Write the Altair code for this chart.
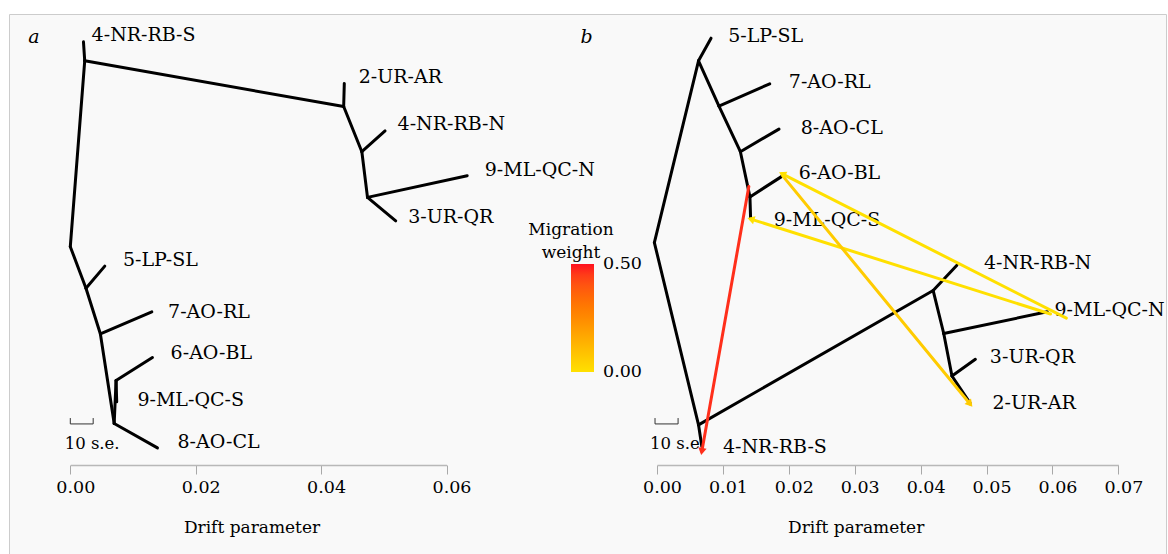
import math
import altair as alt
import pandas as pd

SERIF = "DejaVu Serif"
FS_TIP = 19      # tip labels
FS_AX = 17.5     # tick labels
FS_TITLE = 17    # axis / legend titles
FS_SE = 16.5     # "10 s.e."

# ---------------- Panel a : tree without migration ----------------
A_NODE = ["root", "n1", "n2", "n3", "n4", "n5", "n6", "n7", "n8",
          "4-NR-RB-S", "2-UR-AR", "4-NR-RB-N", "9-ML-QC-N", "3-UR-QR",
          "5-LP-SL", "7-AO-RL", "6-AO-BL", "9-ML-QC-S", "8-AO-CL"]
A_NODE_X = [0.0, 0.0023, 0.0436, 0.0465, 0.0474, 0.0025, 0.0048, 0.0070, 0.0073,
            0.0021, 0.0437, 0.0502, 0.0633, 0.0519,
            0.0055, 0.0130, 0.0131, 0.0074, 0.0139]
A_NODE_Y = [4.57, 0.46, 1.47, 2.47, 3.48, 5.49, 6.50, 8.48, 7.53,
            0.04, 0.96, 2.01, 3.00, 4.00,
            5.00, 6.01, 7.02, 8.00, 9.02]
A_EDGE_FROM = ["root", "n1", "n1", "n2", "n2", "n3", "n3", "n4", "n4",
               "root", "n5", "n5", "n6", "n6", "n7", "n8", "n8", "n7"]
A_EDGE_TO = ["n1", "4-NR-RB-S", "n2", "2-UR-AR", "n3", "4-NR-RB-N", "n4", "9-ML-QC-N", "3-UR-QR",
             "n5", "5-LP-SL", "n6", "7-AO-RL", "n7", "n8", "6-AO-BL", "9-ML-QC-S", "8-AO-CL"]
A_LABEL = ["4-NR-RB-S", "2-UR-AR", "4-NR-RB-N", "9-ML-QC-N", "3-UR-QR",
           "5-LP-SL", "7-AO-RL", "6-AO-BL", "9-ML-QC-S", "8-AO-CL"]
A_LABEL_X = [0.0034, 0.0460, 0.0522, 0.0661, 0.0539, 0.0084, 0.0156, 0.0160, 0.0107, 0.0171]
A_LABEL_Y = [-0.11, 0.81, 1.86, 2.87, 3.91, 4.87, 6.01, 6.92, 7.95, 8.90]
A_TICKS = [0.00, 0.02, 0.04, 0.06]

# ---------------- Panel b : tree with migration ----------------
B_NODE = ["root", "m1", "m2", "m3", "m4", "m5", "m6", "m7", "m8",
          "5-LP-SL", "7-AO-RL", "8-AO-CL", "6-AO-BL", "9-ML-QC-S",
          "4-NR-RB-S", "4-NR-RB-N", "9-ML-QC-N", "3-UR-QR", "2-UR-AR"]
B_NODE_X = [-0.0004, 0.0063, 0.0094, 0.01265, 0.0141, 0.0063, 0.0419, 0.0435, 0.04475,
            0.0082, 0.0171, 0.0185, 0.0190, 0.0142,
            0.0068, 0.0455, 0.0592, 0.0483, 0.0475]
B_NODE_Y = [4.48, 0.46, 1.46, 2.47, 3.47, 8.51, 5.54, 6.49, 7.43,
            -0.04, 0.97, 1.97, 3.01, 3.94,
            8.99, 4.98, 6.01, 7.06, 8.03]
B_EDGE_FROM = ["root", "m1", "m1", "m2", "m2", "m3", "m3", "m4", "m4",
               "root", "m5", "m5", "m6", "m6", "m7", "m7", "m8", "m8"]
B_EDGE_TO = ["m1", "5-LP-SL", "m2", "7-AO-RL", "m3", "8-AO-CL", "m4", "6-AO-BL", "9-ML-QC-S",
             "m5", "4-NR-RB-S", "m6", "4-NR-RB-N", "m7", "9-ML-QC-N", "m8", "3-UR-QR", "2-UR-AR"]
B_LABEL = ["5-LP-SL", "7-AO-RL", "8-AO-CL", "6-AO-BL", "9-ML-QC-S",
           "4-NR-RB-N", "9-ML-QC-N", "3-UR-QR", "2-UR-AR", "4-NR-RB-S"]
B_LABEL_X = [0.0108, 0.0200, 0.0218, 0.0215, 0.0177, 0.0496, 0.0603, 0.0505, 0.0509, 0.0100]
B_LABEL_Y = [-0.09, 0.92, 1.95, 2.95, 3.98, 4.94, 5.97, 7.00, 8.02, 8.99]
B_TICKS = [0.00, 0.01, 0.02, 0.03, 0.04, 0.05, 0.06, 0.07]

# migration edges (panel b)
MIG_X0 = [0.01393, 0.0621, 0.0597, 0.0191]
MIG_Y0 = [3.24, 6.15, 6.06, 3.01]
MIG_X1 = [0.0068, 0.0190, 0.01424, 0.0475]
MIG_Y1 = [9.10, 2.96, 3.96, 8.05]
MIG_W = [0.47, 0.0, 0.0, 0.06]

WEIGHT_STOPS = [-0.001, 0.25, 0.501]
WEIGHT_COLORS = ["#FFE000", "#FF8A00", "#FF1020"]
WEIGHT_LABELS = [0.0, 0.5]

# scale bars "10 s.e."
SE_X0 = [0.0, -0.0003]
SE_X1 = [0.00365, 0.0032]
SE_Y = 8.49
SE_TEXT_X = [-0.0009, -0.00106]
SE_TEXT_Y = 8.93

# ---------------- layout (plot-area pixels) ----------------
PAD = {"left": 9, "top": 14, "right": 2, "bottom": 0}
W, H = 1157, 540
XA_RANGE = [61.3, 437.5]
XB_RANGE = [648.0, 1109.4]
Y_RANGE = [26.0, 433.0]

SCALE_Y = alt.Scale(domain=[0, 9], range=Y_RANGE, nice=False, zero=False)
SCALE_XA = alt.Scale(domain=[0, 0.06], range=XA_RANGE, nice=False, zero=False)
SCALE_XB = alt.Scale(domain=[0, 0.07], range=XB_RANGE, nice=False, zero=False)
COLOR_SCALE = alt.Scale(domain=WEIGHT_STOPS, range=WEIGHT_COLORS)


def edges_df(node, nx, ny, efrom, eto):
    pos = {n: (x, y) for n, x, y in zip(node, nx, ny)}
    return pd.DataFrame([dict(x0=pos[a][0], y0=pos[a][1], x1=pos[b][0], y1=pos[b][1])
                         for a, b in zip(efrom, eto)])


def x_axis(values, title_x):
    return alt.Axis(values=values, format=".2f", orient="bottom", offset=-89,
                    tickSize=9, tickColor="#a8a8a8", domainColor="#b8b8b8", domainWidth=1.5,
                    labelFont=SERIF, labelFontSize=FS_AX, labelFontWeight="normal",
                    labelColor="black", labelPadding=4,
                    labelOffset=5, labelFlush=False, labelOverlap=False, grid=False,
                    title="Drift parameter", titleFont=SERIF, titleFontSize=FS_TITLE,
                    titleFontWeight="normal", titleColor="black", titleX=title_x, titleY=62,
                    titleBaseline="middle", titleAlign="center")


def panel(scale_x, ticks, title_x, edges, lab, lab_x, lab_y, letter, letter_x, se_i):
    base_edges = alt.Chart(edges).mark_rule(color="black", strokeWidth=3, strokeCap="round").encode(
        x=alt.X("x0:Q", scale=scale_x, axis=x_axis(ticks, title_x)),
        x2="x1:Q",
        y=alt.Y("y0:Q", scale=SCALE_Y, axis=None),
        y2="y1:Q",
    )
    labels = alt.Chart(pd.DataFrame({"name": lab, "x": lab_x, "y": lab_y})).mark_text(
        align="left", baseline="middle", font=SERIF, fontSize=FS_TIP, fontWeight="normal", color="black"
    ).encode(
        x=alt.X("x:Q", scale=scale_x, axis=None),
        y=alt.Y("y:Q", scale=SCALE_Y, axis=None),
        text="name:N",
    )
    let = alt.Chart(pd.DataFrame({"t": [letter], "x": [letter_x], "y": [-0.07]})).mark_text(
        align="left", baseline="middle", font=SERIF, fontSize=FS_TIP, fontStyle="italic",
        fontWeight="normal", color="black"
    ).encode(
        x=alt.X("x:Q", scale=scale_x, axis=None),
        y=alt.Y("y:Q", scale=SCALE_Y, axis=None),
        text="t:N",
    )
    se = pd.DataFrame({"x0": [SE_X0[se_i]], "x1": [SE_X1[se_i]], "y": [SE_Y]})
    se_bar = alt.Chart(se).mark_rule(color="#333333", strokeWidth=1).encode(
        x=alt.X("x0:Q", scale=scale_x, axis=None), x2="x1:Q",
        y=alt.Y("y:Q", scale=SCALE_Y, axis=None),
    )
    se_ends = pd.DataFrame({"x": [SE_X0[se_i], SE_X1[se_i]], "y0": [SE_Y - 0.13] * 2, "y1": [SE_Y] * 2})
    se_tk = alt.Chart(se_ends).mark_rule(color="#333333", strokeWidth=1).encode(
        x=alt.X("x:Q", scale=scale_x, axis=None),
        y=alt.Y("y0:Q", scale=SCALE_Y, axis=None), y2="y1:Q",
    )
    se_txt = alt.Chart(pd.DataFrame({"t": ["10 s.e."], "x": [SE_TEXT_X[se_i]], "y": [SE_TEXT_Y]})).mark_text(
        align="left", baseline="middle", font=SERIF, fontSize=FS_SE, fontWeight="normal", color="black",
    ).encode(
        x=alt.X("x:Q", scale=scale_x, axis=None),
        y=alt.Y("y:Q", scale=SCALE_Y, axis=None),
        text="t:N",
    )
    return [base_edges, labels, let, se_bar, se_tk, se_txt]


# migration layers
sxb = (XB_RANGE[1] - XB_RANGE[0]) / 0.07
sy = (Y_RANGE[1] - Y_RANGE[0]) / 9
mig = pd.DataFrame({"x0": MIG_X0, "y0": MIG_Y0, "x1": MIG_X1, "y1": MIG_Y1, "w": MIG_W})
mig["ang"] = [
    math.degrees(math.atan2((b - a) * sxb, -(d - c) * sy)) % 360
    for a, b, c, d in zip(MIG_X0, MIG_X1, MIG_Y0, MIG_Y1)
]

mig_lines = alt.Chart(mig).mark_rule(strokeWidth=3, strokeCap="round").encode(
    x=alt.X("x0:Q", scale=SCALE_XB, axis=None), x2="x1:Q",
    y=alt.Y("y0:Q", scale=SCALE_Y, axis=None), y2="y1:Q",
    color=alt.Color(
        "w:Q", scale=COLOR_SCALE,
        legend=alt.Legend(
            type="gradient",
            orient="none", legendX=519, legendY=208, direction="vertical",
            gradientLength=108, gradientThickness=23, gradientStrokeWidth=0,
            title=["Migration", "weight"], titleFont=SERIF, titleFontSize=FS_TITLE,
            titleFontWeight="normal", titleColor="black", titleAnchor="start",
            titleAlign="center", titleLineHeight=23, titlePadding=2,
            labelFont=SERIF, labelFontSize=FS_AX, labelFontWeight="normal",
            labelColor="black", labelOffset=9,
            values=WEIGHT_LABELS, format=".2f", labelOverlap=False,
        ),
    ),
)
mig_heads = alt.Chart(mig).mark_point(shape="triangle-up", filled=True, size=70, opacity=1).encode(
    x=alt.X("x1:Q", scale=SCALE_XB, axis=None),
    y=alt.Y("y1:Q", scale=SCALE_Y, axis=None),
    angle=alt.Angle("ang:Q", scale=None),
    color=alt.Color("w:Q", scale=COLOR_SCALE, legend=None),
)

layers_a = panel(SCALE_XA, A_TICKS, 242.5,
                 edges_df(A_NODE, A_NODE_X, A_NODE_Y, A_EDGE_FROM, A_EDGE_TO),
                 A_LABEL, A_LABEL_X, A_LABEL_Y, "a", -0.0067, 0)
layers_b = panel(SCALE_XB, B_TICKS, 846.7,
                 edges_df(B_NODE, B_NODE_X, B_NODE_Y, B_EDGE_FROM, B_EDGE_TO),
                 B_LABEL, B_LABEL_X, B_LABEL_Y, "b", -0.0116, 1)

chart = alt.layer(*layers_a, *layers_b, mig_lines, mig_heads).resolve_scale(
    x="independent", color="independent"
).properties(
    width=W, height=H, padding=PAD,
    autosize=alt.AutoSizeParams(type="none"),
    background="white",
).configure_view(fill="#f9f9f9", stroke="#cccccc", strokeWidth=1)

chart.save("out.html", embed_options={"renderer": "svg", "actions": False})
